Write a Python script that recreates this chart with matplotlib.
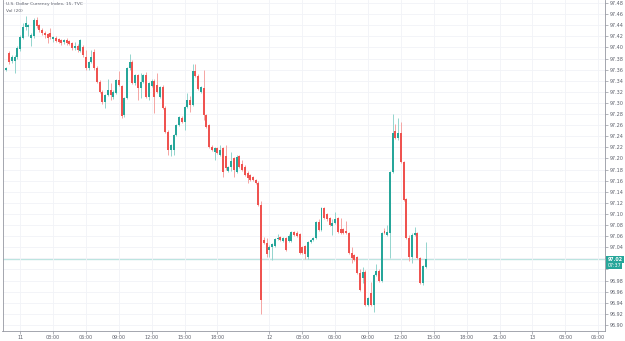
import numpy as np
import matplotlib
matplotlib.use("Agg")
import matplotlib.pyplot as plt
import matplotlib.transforms as mtransforms

# 15 minute candles, U.S. Dollar Currency Index (TVC)
opens = [97.360, 97.390, 97.376, 97.376, 97.383, 97.397, 97.418, 97.437, 97.437, 97.418,
         97.421, 97.450, 97.440, 97.432, 97.427, 97.425, 97.426, 97.416, 97.417, 97.415,
         97.413, 97.409, 97.413, 97.412, 97.408, 97.399, 97.403, 97.394, 97.401, 97.383,
         97.363, 97.374, 97.392, 97.363, 97.338, 97.320, 97.302, 97.314, 97.323, 97.311,
         97.318, 97.341, 97.330, 97.278, 97.309, 97.363, 97.374, 97.336, 97.350, 97.327,
         97.338, 97.350, 97.311, 97.330, 97.340, 97.332, 97.311, 97.329, 97.291, 97.248,
         97.215, 97.215, 97.242, 97.260, 97.273, 97.266, 97.293, 97.305, 97.296, 97.358,
         97.349, 97.320, 97.327, 97.278, 97.260, 97.221, 97.212, 97.218, 97.206, 97.218,
         97.205, 97.178, 97.185, 97.200, 97.176, 97.204, 97.190, 97.185, 97.174, 97.170,
         97.167, 97.161, 97.156, 97.116, 97.053, 97.048, 97.035, 97.040, 97.042, 97.055,
         97.058, 97.052, 97.056, 97.052, 97.052, 97.067, 97.066, 97.064, 97.040, 97.042,
         97.022, 97.049, 97.053, 97.056, 97.085, 97.071, 97.111, 97.100, 97.092, 97.078,
         97.083, 97.092, 97.073, 97.072, 97.070, 97.066, 97.030, 97.026, 97.022, 96.994,
         96.985, 96.996, 96.936, 96.958, 96.936, 96.990, 96.998, 96.980, 97.070, 97.062,
         97.066, 97.175, 97.250, 97.236, 97.245, 97.194, 97.127, 97.057, 97.022, 97.062,
         97.066, 97.020, 96.975, 97.005]
highs = [97.364, 97.393, 97.386, 97.387, 97.402, 97.422, 97.444, 97.457, 97.442, 97.426,
         97.453, 97.455, 97.443, 97.435, 97.430, 97.427, 97.435, 97.421, 97.420, 97.417,
         97.415, 97.415, 97.418, 97.414, 97.410, 97.410, 97.406, 97.415, 97.404, 97.395,
         97.376, 97.396, 97.397, 97.366, 97.341, 97.323, 97.316, 97.343, 97.336, 97.323,
         97.343, 97.358, 97.333, 97.311, 97.365, 97.388, 97.377, 97.352, 97.353, 97.354,
         97.352, 97.356, 97.338, 97.343, 97.343, 97.354, 97.331, 97.332, 97.294, 97.251,
         97.226, 97.244, 97.262, 97.277, 97.276, 97.295, 97.318, 97.312, 97.370, 97.370,
         97.352, 97.331, 97.360, 97.281, 97.263, 97.224, 97.220, 97.221, 97.224, 97.221,
         97.224, 97.187, 97.212, 97.203, 97.206, 97.207, 97.197, 97.188, 97.177, 97.172,
         97.169, 97.163, 97.159, 97.124, 97.058, 97.056, 97.044, 97.048, 97.057, 97.064,
         97.061, 97.059, 97.059, 97.063, 97.069, 97.070, 97.070, 97.066, 97.042, 97.044,
         97.051, 97.055, 97.058, 97.087, 97.090, 97.113, 97.113, 97.102, 97.094, 97.090,
         97.103, 97.094, 97.092, 97.074, 97.088, 97.068, 97.040, 97.028, 97.024, 97.000,
         97.005, 96.999, 96.950, 96.978, 96.992, 97.010, 97.000, 97.067, 97.075, 97.080,
         97.177, 97.280, 97.262, 97.273, 97.266, 97.196, 97.129, 97.062, 97.066, 97.077,
         97.068, 97.022, 97.008, 97.050]
lows = [97.357, 97.371, 97.372, 97.354, 97.380, 97.394, 97.415, 97.432, 97.420, 97.403,
        97.418, 97.436, 97.428, 97.423, 97.418, 97.408, 97.415, 97.410, 97.410, 97.408,
        97.405, 97.407, 97.405, 97.404, 97.396, 97.395, 97.392, 97.392, 97.383, 97.360,
        97.360, 97.372, 97.360, 97.336, 97.318, 97.299, 97.291, 97.312, 97.305, 97.308,
        97.316, 97.330, 97.273, 97.275, 97.307, 97.360, 97.334, 97.333, 97.305, 97.309,
        97.336, 97.309, 97.305, 97.328, 97.282, 97.318, 97.309, 97.289, 97.246, 97.206,
        97.205, 97.206, 97.240, 97.258, 97.264, 97.251, 97.291, 97.284, 97.294, 97.347,
        97.323, 97.318, 97.269, 97.255, 97.219, 97.213, 97.197, 97.208, 97.204, 97.167,
        97.180, 97.176, 97.178, 97.167, 97.174, 97.183, 97.178, 97.169, 97.156, 97.159,
        97.159, 97.154, 97.114, 96.920, 97.045, 97.022, 97.022, 97.017, 97.040, 97.053,
        97.051, 97.050, 97.033, 97.050, 97.050, 97.060, 97.058, 97.028, 97.028, 97.018,
        97.018, 97.047, 97.051, 97.054, 97.069, 97.069, 97.090, 97.088, 97.078, 97.062,
        97.081, 97.066, 97.064, 97.064, 97.063, 97.028, 97.012, 97.015, 96.992, 96.961,
        96.975, 96.934, 96.934, 96.934, 96.923, 96.988, 96.978, 96.978, 97.063, 97.060,
        97.020, 97.173, 97.235, 97.234, 97.192, 97.123, 97.055, 97.016, 97.012, 97.060,
        97.018, 96.973, 96.972, 97.003]
closes = [97.362, 97.374, 97.383, 97.383, 97.399, 97.419, 97.437, 97.445, 97.440, 97.423,
          97.450, 97.439, 97.431, 97.426, 97.422, 97.417, 97.419, 97.419, 97.412, 97.410,
          97.408, 97.413, 97.408, 97.406, 97.399, 97.403, 97.395, 97.413, 97.386, 97.363,
          97.374, 97.383, 97.363, 97.338, 97.320, 97.302, 97.314, 97.323, 97.314, 97.320,
          97.341, 97.332, 97.277, 97.309, 97.363, 97.374, 97.336, 97.350, 97.327, 97.338,
          97.350, 97.311, 97.336, 97.340, 97.311, 97.320, 97.329, 97.291, 97.248, 97.215,
          97.224, 97.242, 97.260, 97.275, 97.266, 97.293, 97.305, 97.296, 97.358, 97.349,
          97.325, 97.329, 97.278, 97.257, 97.221, 97.215, 97.218, 97.210, 97.215, 97.176,
          97.182, 97.185, 97.195, 97.180, 97.203, 97.185, 97.180, 97.171, 97.165, 97.161,
          97.161, 97.156, 97.116, 96.945, 97.048, 97.028, 97.040, 97.046, 97.055, 97.057,
          97.053, 97.057, 97.035, 97.061, 97.067, 97.062, 97.060, 97.030, 97.030, 97.028,
          97.049, 97.053, 97.056, 97.085, 97.071, 97.111, 97.092, 97.090, 97.080, 97.083,
          97.090, 97.068, 97.066, 97.066, 97.065, 97.030, 97.021, 97.017, 96.994, 96.963,
          96.995, 96.936, 96.948, 96.936, 96.990, 96.998, 96.980, 97.065, 97.065, 97.068,
          97.175, 97.246, 97.237, 97.245, 97.194, 97.125, 97.057, 97.022, 97.062, 97.066,
          97.020, 96.975, 97.006, 97.018]

tick_bars = [5, 17, 29, 41, 53, 65, 77, 96, 108, 120, 132, 144, 156, 168, 180, 192, 204, 216]
tick_labels = ["11", "03:00", "06:00", "09:00", "12:00", "15:00", "18:00", "12", "03:00",
               "06:00", "09:00", "12:00", "15:00", "18:00", "21:00", "13", "03:00", "06:00"]
price_ticks = [round(96.90 + 0.02 * k, 2) for k in range(30)]
hidden_prices = [97.00, 97.02]
last_label = "97.02"
countdown = "07:37"
title = "U.S. Dollar Currency Index, 15, TVC"
vol_label = "Vol (20)"

UP, DOWN = "#26a69a", "#ef5350"
UP_WICK, DOWN_WICK = "#93d4cd", "#f5a5a3"
GRID = "#f1f3f7"
TXT = "#5d606b"

fig = plt.figure(figsize=(6.25, 3.41), dpi=100)
ax = fig.add_axes([2.5 / 625, 10 / 341, 602.5 / 625, 331 / 341])

o = np.array(opens)
h = np.array(highs)
l = np.array(lows)
c = np.array(closes)
x = np.arange(len(o))
up = c >= o

ax.vlines(x, l, h, colors=np.where(up, UP_WICK, DOWN_WICK), linewidth=0.7, zorder=2)
body = np.maximum(np.abs(c - o), 0.0022)
ax.bar(x, body, bottom=np.minimum(o, c), width=0.72,
       color=np.where(up, UP, DOWN), linewidth=0, zorder=3)

ax.axhline(c[-1], color=UP, alpha=0.3, linewidth=1.0, zorder=1)

ax.set_xlim(-1.45, 218.5)
ax.set_ylim(96.889, 97.4856)

ax.set_xticks(tick_bars)
ax.set_xticklabels(tick_labels)
ax.set_yticks(price_ticks)
ax.set_yticklabels(["" if p in hidden_prices else f"{p:.2f}" for p in price_ticks])
ax.yaxis.tick_right()
ax.grid(True, color=GRID, linewidth=0.6, zorder=0)
ax.tick_params(axis="both", labelsize=3.5, colors="#9598a1", labelcolor=TXT,
               length=2, width=0.5, pad=1.2)

ax.spines["top"].set_visible(False)
for side in ["right", "bottom", "left"]:
    ax.spines[side].set_color("#9598a1")
    ax.spines[side].set_linewidth(0.6)

trans = mtransforms.blended_transform_factory(ax.transAxes, ax.transData)
ax.text(1.004, c[-1], last_label, transform=trans, fontsize=3.4, color="white",
        va="center", ha="left", fontweight="bold",
        bbox=dict(boxstyle="square,pad=0.25", fc=UP, ec="none"))
ax.annotate(countdown, xy=(1.004, c[-1]), xycoords=trans, xytext=(0, -4.6),
            textcoords="offset points", fontsize=3.4, color="white", va="center",
            ha="left", bbox=dict(boxstyle="square,pad=0.25", fc=UP, ec="none"))

ax.text(0.006, 0.993, title, transform=ax.transAxes, fontsize=3.2, color=TXT,
        va="top", ha="left")
ax.text(0.006, 0.972, vol_label, transform=ax.transAxes, fontsize=3.2, color=TXT,
        va="top", ha="left")

fig.savefig("out.png", dpi=100, facecolor="white")
